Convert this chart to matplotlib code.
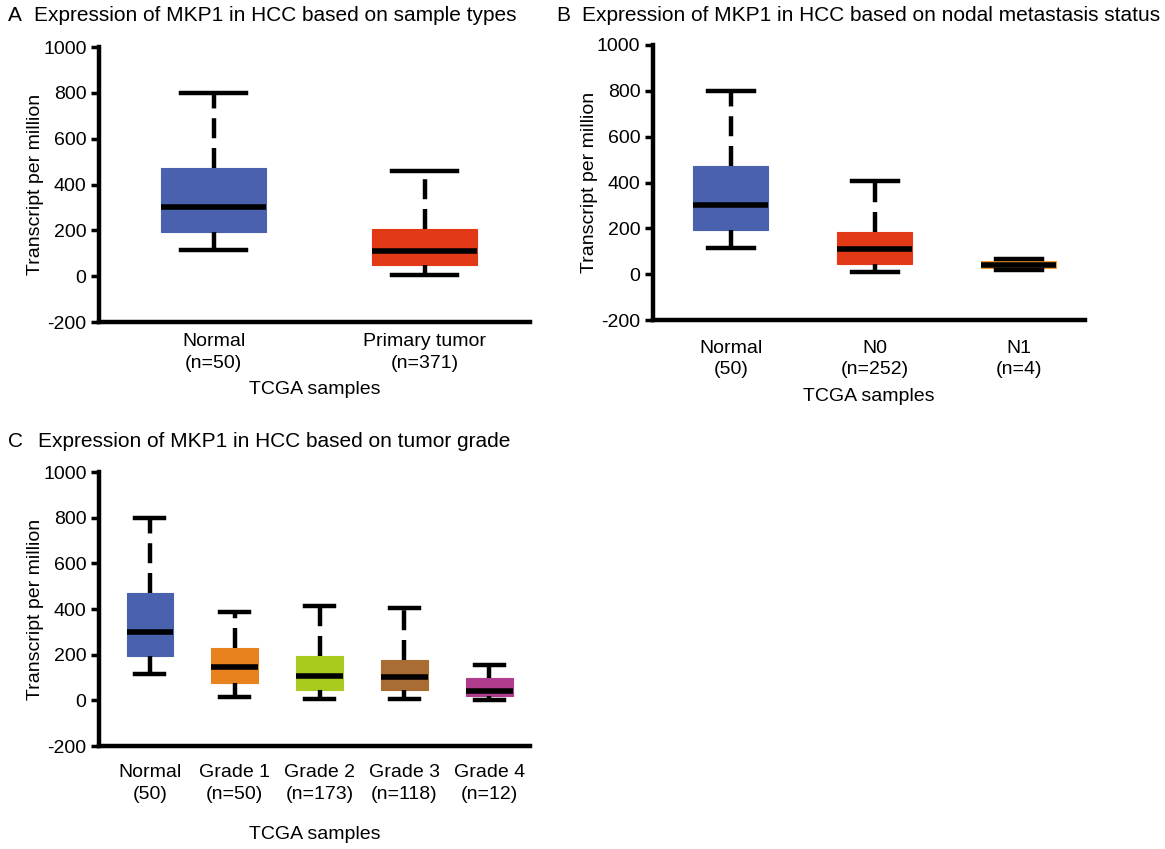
import matplotlib
matplotlib.use("Agg")
import matplotlib.pyplot as plt

plt.rcParams['font.family'] = ['Liberation Sans', 'DejaVu Sans']

# ---------------- data ----------------
a_labels = ["Normal\n(n=50)", "Primary tumor\n(n=371)"]
a_whislo = [115, 5]
a_q1 = [195, 50]
a_med = [300, 112]
a_q3 = [470, 205]
a_whishi = [800, 460]
a_colors = ["#4A62AE", "#E23A16"]

b_labels = ["Normal\n(50)", "N0\n(n=252)", "N1\n(n=4)"]
b_whislo = [115, 10, 20]
b_q1 = [195, 45, 27]
b_med = [300, 110, 40]
b_q3 = [470, 185, 56]
b_whishi = [800, 405, 68]
b_colors = ["#4A62AE", "#E23A16", "#F09A33"]

c_labels = ["Normal\n(50)", "Grade 1\n(n=50)", "Grade 2\n(n=173)", "Grade 3\n(n=118)", "Grade 4\n(n=12)"]
c_whislo = [115, 15, 8, 8, 2]
c_q1 = [195, 78, 45, 45, 20]
c_med = [300, 148, 105, 102, 42]
c_q3 = [470, 230, 195, 178, 100]
c_whishi = [800, 385, 415, 405, 155]
c_colors = ["#4A62AE", "#E8821F", "#A9CB1E", "#A96C33", "#B03C8D"]

yticks = [-200, 0, 200, 400, 600, 800, 1000]


def draw(ax, labels, wl, q1, med, q3, wh, colors, width, xlim, tick_pad, xlabel_pad):
    stats = []
    for i in range(len(labels)):
        stats.append(dict(whislo=wl[i], q1=q1[i], med=med[i], q3=q3[i], whishi=wh[i], fliers=[]))
    pos = list(range(1, len(labels) + 1))
    bp = ax.bxp(stats, positions=pos, widths=width, patch_artist=True, showfliers=False,
                capwidths=width * 0.62,
                whiskerprops=dict(color="black", linewidth=3.2, linestyle=(0, (4.5, 2.2))),
                capprops=dict(color="black", linewidth=3.2),
                medianprops=dict(color="black", linewidth=4, solid_capstyle="butt"),
                boxprops=dict(linewidth=0.8))
    for patch, c in zip(bp["boxes"], colors):
        patch.set_facecolor(c)
        patch.set_edgecolor(c)
    ax.set_xlim(*xlim)
    ax.set_ylim(-200, 1000)
    ax.set_yticks(yticks)
    ax.set_yticklabels([str(t) for t in yticks], fontsize=14)
    ax.set_xticks(pos)
    ax.set_xticklabels(labels, fontsize=14, linespacing=1.35)
    ax.tick_params(axis="x", length=0, pad=tick_pad)
    ax.tick_params(axis="y", length=6, width=2.5, pad=3)
    for s in ["top", "right"]:
        ax.spines[s].set_visible(False)
    for s in ["left", "bottom"]:
        ax.spines[s].set_linewidth(3.2)
    ax.set_ylabel("Transcript per million", fontsize=14, labelpad=-1)
    ax.set_xlabel("TCGA samples", fontsize=14, labelpad=xlabel_pad)


fig = plt.figure(figsize=(11.65, 8.49), dpi=100)

axA = fig.add_axes([0.0850, 0.6207, 0.3700, 0.3239])
draw(axA, a_labels, a_whislo, a_q1, a_med, a_q3, a_whishi, a_colors, 0.5, (0.457, 2.5), 8, 7)
fig.text(0.007, 0.982, "A", fontsize=15, va="center", ha="left")
fig.text(0.029, 0.982, "Expression of MKP1 in HCC based on sample types", fontsize=15, va="center", ha="left")

axB = fig.add_axes([0.5605, 0.6230, 0.3708, 0.3240])
draw(axB, b_labels, b_whislo, b_q1, b_med, b_q3, b_whishi, b_colors, 0.52, (0.46, 3.46), 14, 7)
fig.text(0.4775, 0.982, "B", fontsize=15, va="center", ha="left")
fig.text(0.4995, 0.982, "Expression of MKP1 in HCC based on nodal metastasis status", fontsize=15, va="center", ha="left")

axC = fig.add_axes([0.0850, 0.1213, 0.3700, 0.3227])
draw(axC, c_labels, c_whislo, c_q1, c_med, c_q3, c_whishi, c_colors, 0.55, (0.4, 5.48), 13, 17)
fig.text(0.007, 0.480, "C", fontsize=15, va="center", ha="left")
fig.text(0.033, 0.480, "Expression of MKP1 in HCC based on tumor grade", fontsize=15, va="center", ha="left")

fig.savefig("out.png", dpi=100)
